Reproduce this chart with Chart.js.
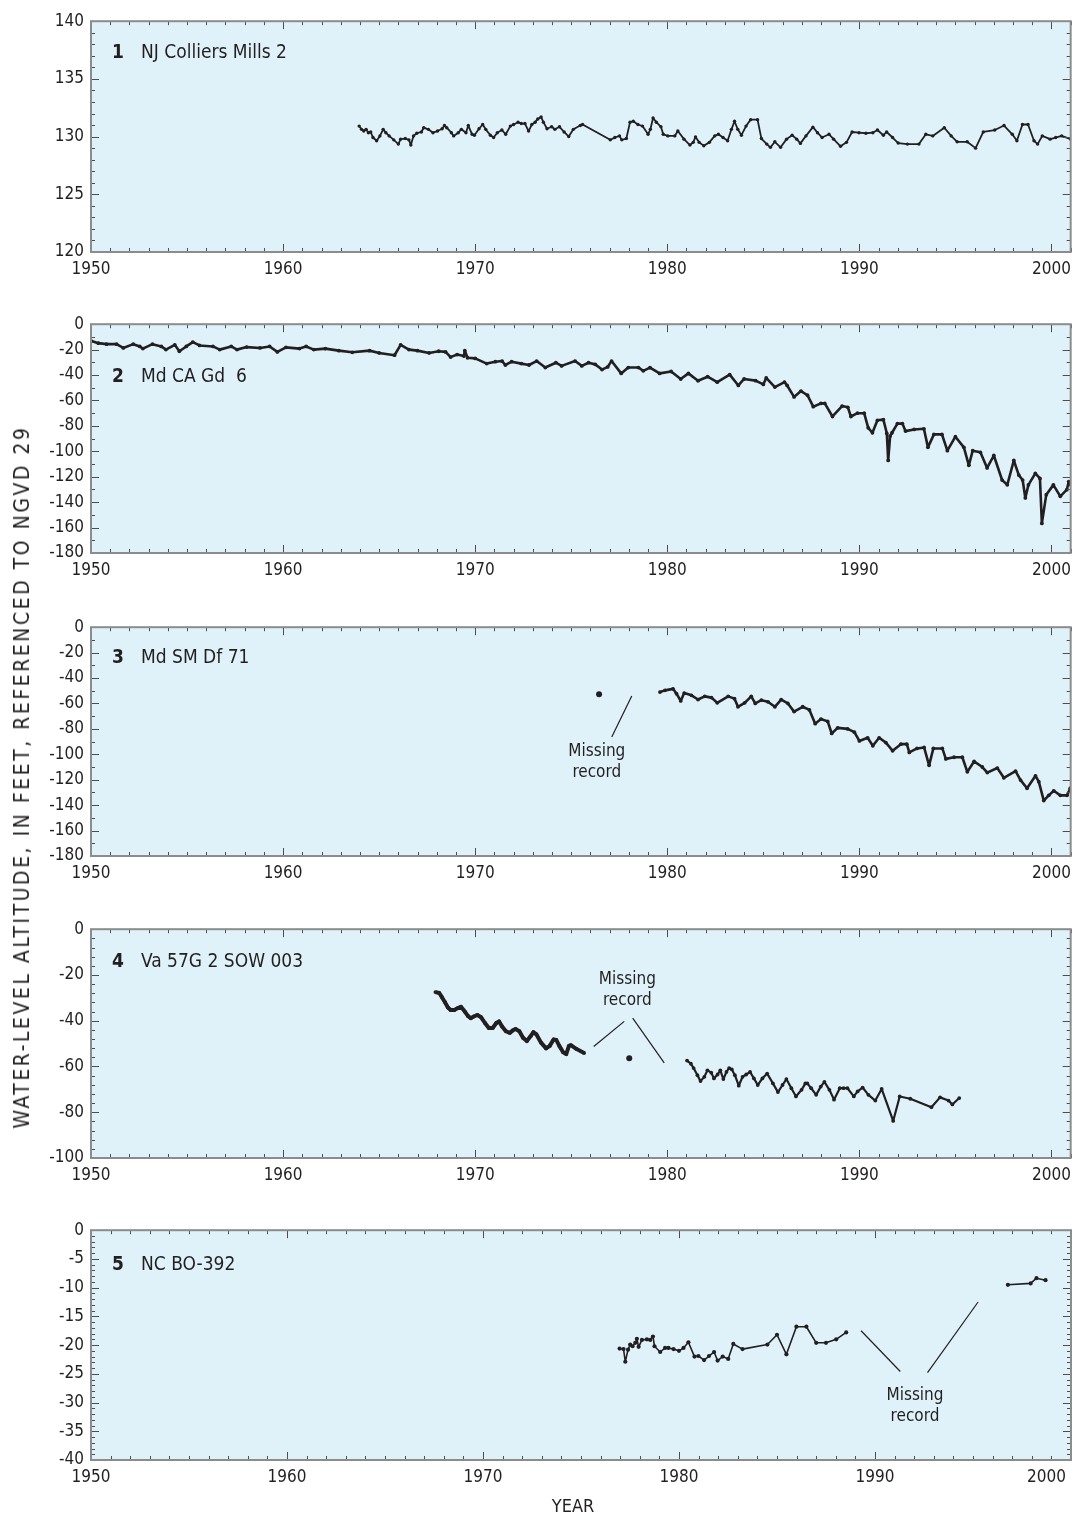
<!DOCTYPE html>
<html><head><meta charset="utf-8">
<script src="https://cdn.jsdelivr.net/npm/chart.js@4.4.1/dist/chart.umd.min.js"></script>
<style>
html,body{margin:0;padding:0;background:#fff;width:1078px;height:1519px;overflow:hidden}
body{position:relative}
canvas{position:absolute;left:0}
.ttl{position:absolute;white-space:nowrap;color:#231f20;font-family:'Liberation Sans Narrow','DejaVu Sans Condensed','Arial Narrow',sans-serif}
#ytitle{left:22px;top:777px;font-size:21px;transform:translate(-50%,-50%) rotate(-90deg)}
#xtitle{left:573px;top:1505px;font-size:18px;transform:translate(-50%,-50%)}
</style></head><body>
<canvas id="c1"></canvas><canvas id="c2"></canvas><canvas id="c3"></canvas><canvas id="c4"></canvas><canvas id="c5"></canvas>
<div id="ytitle" class="ttl">WATER-LEVEL ALTITUDE, IN FEET, REFERENCED TO NGVD 29</div>
<div id="xtitle" class="ttl">YEAR</div>
<script>
// ---------- DATA ----------
const xTickYears = [1950,1960,1970,1980,1990,2000];

const p1Years = [1963.96,1964.08,1964.2,1964.32,1964.44,1964.56,1964.68,1964.87,1965.04,1965.21,1965.35,1965.52,1965.76,1966.0,1966.12,1966.36,1966.55,1966.65,1966.79,1966.96,1967.2,1967.32,1967.56,1967.8,1968.04,1968.28,1968.4,1968.52,1968.76,1968.88,1969.12,1969.28,1969.52,1969.64,1969.84,1969.96,1970.2,1970.39,1970.55,1970.79,1970.96,1971.15,1971.39,1971.59,1971.83,1972.0,1972.23,1972.4,1972.59,1972.78,1972.95,1973.12,1973.26,1973.43,1973.55,1973.74,1973.98,1974.15,1974.39,1974.63,1974.87,1975.11,1975.47,1975.59,1977.03,1977.27,1977.51,1977.63,1977.87,1978.06,1978.23,1978.47,1978.71,1979.0,1979.12,1979.26,1979.43,1979.67,1979.79,1980.03,1980.39,1980.55,1980.87,1981.18,1981.35,1981.47,1981.66,1981.9,1982.19,1982.47,1982.66,1982.9,1983.14,1983.34,1983.5,1983.67,1983.86,1984.1,1984.34,1984.7,1984.9,1985.18,1985.37,1985.6,1985.9,1986.21,1986.5,1986.74,1986.93,1987.22,1987.58,1987.82,1988.06,1988.42,1988.66,1989.02,1989.33,1989.62,1989.98,1990.34,1990.7,1990.94,1991.25,1991.42,1991.73,1992.02,1992.5,1993.1,1993.46,1993.82,1994.42,1994.78,1995.09,1995.61,1996.05,1996.45,1997.05,1997.53,1997.96,1998.2,1998.49,1998.78,1999.09,1999.28,1999.52,1999.93,2000.22,2000.53,2001.0];
const p1Levels = [130.91,130.63,130.48,130.63,130.34,130.4,129.92,129.64,130.06,130.63,130.34,130.06,129.72,129.35,129.78,129.83,129.72,129.27,130.06,130.29,130.4,130.77,130.63,130.34,130.48,130.68,130.96,130.77,130.34,130.06,130.34,130.63,130.34,130.96,130.2,130.12,130.68,131.05,130.63,130.12,129.92,130.34,130.57,130.2,130.91,131.05,131.25,131.13,131.13,130.48,131.05,131.25,131.53,131.7,131.25,130.68,130.85,130.63,130.85,130.4,130.0,130.63,130.96,131.05,129.72,129.92,130.06,129.72,129.83,131.25,131.33,131.05,130.91,130.2,130.63,131.61,131.25,130.85,130.2,130.06,130.06,130.48,129.78,129.27,129.5,129.97,129.5,129.21,129.5,130.06,130.2,129.92,129.64,130.63,131.33,130.63,130.12,130.91,131.47,131.47,129.83,129.35,129.07,129.55,129.07,129.78,130.12,129.78,129.41,130.06,130.82,130.34,129.92,130.2,129.78,129.16,129.5,130.4,130.34,130.29,130.34,130.57,130.12,130.4,129.92,129.44,129.35,129.35,130.2,130.06,130.77,130.06,129.55,129.55,129.0,130.4,130.57,130.96,130.2,129.64,131.05,131.05,129.64,129.35,130.06,129.78,129.92,130.06,129.78];

const p2Years = [1950.0,1950.38,1950.81,1951.33,1951.68,1952.2,1952.54,1952.7,1953.2,1953.66,1953.9,1954.36,1954.6,1954.96,1955.3,1955.65,1956.35,1956.7,1957.3,1957.6,1958.1,1958.8,1959.3,1959.7,1960.15,1960.85,1961.2,1961.6,1962.2,1962.9,1963.6,1964.5,1965.0,1965.8,1966.12,1966.55,1966.99,1967.6,1968.1,1968.46,1968.72,1969.06,1969.41,1969.46,1969.6,1970.0,1970.6,1971.05,1971.4,1971.57,1971.9,1972.4,1972.8,1973.2,1973.65,1974.2,1974.5,1975.2,1975.55,1975.9,1976.25,1976.6,1976.9,1977.1,1977.6,1977.97,1978.5,1978.75,1979.1,1979.6,1980.2,1980.7,1981.1,1981.6,1982.1,1982.6,1983.25,1983.7,1984.0,1984.6,1985.0,1985.15,1985.6,1986.1,1986.24,1986.6,1986.96,1987.3,1987.6,1988.0,1988.2,1988.6,1989.1,1989.4,1989.56,1989.9,1990.25,1990.46,1990.68,1990.94,1991.25,1991.43,1991.5,1991.6,1991.7,1991.98,1992.24,1992.4,1992.85,1993.36,1993.57,1993.88,1994.3,1994.58,1995.0,1995.44,1995.7,1995.9,1996.3,1996.65,1997.0,1997.43,1997.7,1998.04,1998.3,1998.5,1998.64,1998.8,1999.16,1999.4,1999.5,1999.73,2000.1,2000.46,2000.8,2000.9,2001.0];
const p2Levels = [-13.1,-14.9,-15.7,-15.7,-18.7,-15.7,-17.5,-19.2,-15.7,-17.5,-20.0,-16.2,-21.3,-17.5,-14.1,-16.7,-17.5,-20.0,-17.5,-20.0,-18.0,-18.7,-17.5,-21.8,-18.2,-19.2,-17.5,-20.0,-19.2,-20.8,-22.1,-20.8,-22.6,-24.4,-16.2,-20.0,-20.8,-22.6,-21.3,-21.8,-25.9,-23.9,-25.1,-20.8,-26.4,-26.9,-31.0,-29.5,-29.0,-32.1,-29.5,-31.0,-32.1,-29.0,-34.1,-30.3,-32.8,-29.0,-32.8,-30.3,-31.6,-35.7,-33.6,-29.0,-38.7,-34.1,-34.1,-36.7,-34.1,-38.7,-37.2,-43.1,-38.7,-44.5,-41.3,-45.6,-39.7,-48.2,-43.1,-44.4,-47.4,-42.3,-49.5,-45.6,-48.2,-57.2,-52.6,-55.9,-64.9,-62.3,-62.3,-72.6,-64.4,-65.4,-72.6,-70.0,-70.0,-81.5,-85.4,-75.6,-75.1,-85.9,-107.2,-88.0,-85.4,-78.2,-78.2,-84.1,-82.8,-82.3,-96.9,-86.7,-86.7,-99.5,-88.5,-96.9,-111.0,-99.5,-100.8,-113.1,-103.3,-122.6,-126.4,-107.2,-118.7,-122.6,-136.7,-126.4,-117.4,-121.3,-156.7,-134.1,-126.4,-135.4,-130.2,-123.8,-126.4];

const p3SingleYears = [1976.45];
const p3SingleLevels = [-52.8];
const p3Years = [1979.62,1979.88,1980.3,1980.48,1980.7,1980.88,1981.26,1981.6,1981.95,1982.3,1982.6,1983.17,1983.5,1983.68,1984.03,1984.37,1984.58,1984.9,1985.24,1985.6,1985.93,1986.28,1986.6,1987.05,1987.4,1987.7,1988.0,1988.35,1988.56,1988.87,1989.39,1989.74,1990.0,1990.43,1990.7,1991.03,1991.38,1991.73,1992.16,1992.47,1992.6,1993.0,1993.37,1993.63,1993.85,1994.32,1994.5,1994.93,1995.36,1995.62,1995.97,1996.4,1996.66,1997.18,1997.52,1998.13,1998.39,1998.73,1999.17,1999.34,1999.6,1999.86,2000.12,2000.46,2000.81,2000.98];
const p3Levels = [-51.0,-49.7,-48.5,-52.3,-58.0,-51.8,-53.6,-56.9,-54.4,-55.4,-59.5,-54.4,-56.2,-62.6,-59.5,-54.4,-60.0,-57.4,-58.7,-62.6,-56.9,-60.0,-66.4,-62.6,-65.1,-75.9,-72.3,-74.1,-83.6,-79.2,-80.0,-82.6,-89.5,-87.0,-93.3,-87.0,-90.8,-97.2,-92.0,-92.0,-98.5,-95.4,-94.6,-108.7,-95.4,-95.4,-103.6,-102.3,-102.3,-113.8,-105.6,-110.0,-114.4,-110.8,-118.5,-113.3,-120.3,-126.7,-116.9,-121.5,-136.4,-132.3,-128.7,-132.3,-132.3,-126.7];

const p4aYears = [1967.93,1968.13,1968.26,1968.42,1968.58,1968.72,1968.92,1969.06,1969.26,1969.46,1969.62,1969.77,1969.91,1970.11,1970.31,1970.51,1970.71,1970.91,1971.1,1971.24,1971.4,1971.6,1971.8,1971.96,1972.1,1972.3,1972.49,1972.69,1972.89,1973.03,1973.19,1973.43,1973.69,1973.88,1974.08,1974.22,1974.38,1974.58,1974.74,1974.88,1974.98,1975.28,1975.67];
const p4aLevels = [-27.5,-27.9,-29.6,-31.8,-34.2,-35.3,-35.3,-34.6,-33.9,-36.0,-37.9,-38.9,-38.2,-37.5,-38.5,-41.0,-43.2,-43.2,-41.0,-40.3,-42.5,-44.6,-45.3,-44.2,-43.6,-44.6,-47.4,-48.9,-46.7,-45.0,-46.0,-49.6,-52.1,-51.0,-48.2,-48.4,-51.0,-53.8,-54.6,-51.0,-50.7,-52.4,-54.1];
const p4SingleYears = [1978.02];
const p4SingleLevels = [-56.4];
const p4bYears = [1981.03,1981.23,1981.37,1981.57,1981.73,1981.93,1982.09,1982.29,1982.43,1982.62,1982.76,1982.92,1983.08,1983.22,1983.36,1983.52,1983.72,1983.92,1984.11,1984.31,1984.51,1984.71,1984.95,1985.2,1985.5,1985.76,1986.0,1986.2,1986.46,1986.7,1986.99,1987.19,1987.29,1987.49,1987.75,1987.99,1988.18,1988.44,1988.68,1988.98,1989.18,1989.38,1989.71,1989.91,1990.17,1990.47,1990.83,1991.16,1991.76,1992.1,1992.65,1993.75,1994.2,1994.64,1994.84,1995.2];
const p4bLevels = [-57.4,-58.8,-60.7,-63.8,-66.4,-64.5,-61.7,-62.7,-65.2,-63.5,-61.7,-65.5,-62.4,-60.7,-61.3,-63.8,-68.4,-64.5,-63.5,-62.4,-65.2,-68.1,-65.2,-63.1,-67.4,-71.2,-68.1,-65.5,-69.5,-73.1,-70.2,-67.4,-67.4,-69.5,-72.4,-68.8,-66.7,-70.2,-74.5,-69.5,-69.5,-69.5,-73.1,-70.9,-69.2,-72.4,-74.9,-69.8,-83.8,-73.1,-74.1,-77.8,-73.5,-74.9,-76.6,-73.8];

const p5aYears = [1976.97,1977.17,1977.26,1977.4,1977.51,1977.63,1977.77,1977.85,1977.94,1978.11,1978.36,1978.53,1978.67,1978.75,1979.04,1979.29,1979.46,1979.72,1980.0,1980.23,1980.48,1980.79,1980.99,1981.28,1981.53,1981.79,1981.97,1982.23,1982.51,1982.77,1983.24,1984.51,1985.0,1985.48,1985.99,1986.5,1987.0,1987.5,1988.02,1988.53];
const p5aLevels = [-20.6,-20.7,-22.9,-20.8,-19.9,-20.2,-19.6,-18.9,-20.3,-19.1,-19.0,-19.1,-18.5,-20.2,-21.2,-20.5,-20.5,-20.7,-21.0,-20.5,-19.5,-22.0,-21.9,-22.6,-21.9,-21.2,-22.7,-22.0,-22.4,-19.8,-20.7,-19.9,-18.2,-21.6,-16.8,-16.8,-19.6,-19.6,-19.0,-17.8];
const p5bYears = [1996.78,1997.94,1998.24,1998.7];
const p5bLevels = [-9.5,-9.26,-8.35,-8.7];

// ---------- STYLE ----------
const INK = '#231f20';
const BG = '#dff2fa';
const FRAME = '#8c8c8c';
const TICK = '#4d4d4d';
const FONT = "'Liberation Sans Narrow','DejaVu Sans Condensed','Arial Narrow',sans-serif";

function pts(xs, ys){ return xs.map((x,i)=>({x:x, y:ys[i]})); }
function line(xs, ys, opt){ return Object.assign({data:pts(xs,ys), showLine:true, borderColor:INK, backgroundColor:INK, borderWidth:2, pointRadius:1.9, pointBorderWidth:0, pointHoverRadius:0, tension:0, borderJoinStyle:'round'}, opt||{}); }
function dot(xs, ys){ return {data:pts(xs,ys), showLine:false, backgroundColor:INK, borderColor:INK, pointRadius:3, pointBorderWidth:0, pointHoverRadius:0}; }

const framePlugin = {
  id:'frame',
  beforeDraw(chart, args, o){
    const a = chart.chartArea, ctx = chart.ctx;
    ctx.save(); ctx.fillStyle = BG; ctx.fillRect(a.left, a.top, a.right-a.left, a.bottom-a.top); ctx.restore();
    if (o.innerLast){
      const items = chart.scales.x.getLabelItems();
      if (items.length){ items[0].options.textAlign = 'center'; items[items.length-1].options.translation[0] -= 5; }
    }
  },
  afterDatasetsDraw(chart, args, o){
    const ctx = chart.ctx, a = chart.chartArea, xs = chart.scales.x, ys = chart.scales.y;
    ctx.save();
    ctx.strokeStyle = TICK; ctx.lineWidth = 1; ctx.beginPath();
    const nx = Math.round((xs.max - xs.min)/o.xMinor);
    for (let i=0;i<=nx;i++){
      const v = xs.min + i*o.xMinor;
      const px = Math.round(xs.getPixelForValue(v)) + 0.5;
      const L = Math.abs(v/o.xMajor - Math.round(v/o.xMajor)) < 1e-6 ? 8 : 4;
      ctx.moveTo(px, a.top); ctx.lineTo(px, a.top+L);
      ctx.moveTo(px, a.bottom); ctx.lineTo(px, a.bottom-L);
    }
    const ny = Math.round((ys.max - ys.min)/o.yMinor);
    for (let i=0;i<=ny;i++){
      const v = ys.min + i*o.yMinor;
      const py = Math.round(ys.getPixelForValue(v)) + 0.5;
      const L = Math.abs(v/o.yMajor - Math.round(v/o.yMajor)) < 1e-6 ? 8 : 4;
      ctx.moveTo(a.left, py); ctx.lineTo(a.left+L, py);
      ctx.moveTo(a.right, py); ctx.lineTo(a.right-L, py);
    }
    ctx.stroke();
    ctx.strokeStyle = FRAME; ctx.lineWidth = 2;
    ctx.strokeRect(a.left, a.top, a.right-a.left, a.bottom-a.top);
    // notes
    ctx.strokeStyle = INK; ctx.lineWidth = 1.2; ctx.fillStyle = INK;
    (o.notes||[]).forEach(n=>{
      if (n.type==='line'){
        ctx.beginPath();
        ctx.moveTo(xs.getPixelForValue(n.x1), ys.getPixelForValue(n.y1));
        ctx.lineTo(xs.getPixelForValue(n.x2), ys.getPixelForValue(n.y2));
        ctx.stroke();
      } else {
        ctx.font = '17px ' + FONT; ctx.textAlign='center'; ctx.textBaseline='middle';
        ctx.fillText(n.text, xs.getPixelForValue(n.x), ys.getPixelForValue(n.y));
      }
    });
    // panel label
    ctx.textAlign='left'; ctx.textBaseline='middle';
    ctx.font = 'bold 19px ' + FONT; ctx.fillText(o.num, a.left+21, a.top+o.labelDy);
    ctx.font = '19px ' + FONT; ctx.fillText(o.name, a.left+50, a.top+o.labelDy);
    ctx.restore();
  }
};

function makePanel(id, top, plotH, xMax, yMin, yMax, yStep, datasets, frame, inner){
  const cv = document.getElementById(id);
  const PADT = 12, XH = 40;
  const h = PADT + plotH + XH;
  cv.style.top = (top - PADT) + 'px';
  cv.width = 1078; cv.height = h; cv.style.width = '1078px'; cv.style.height = h + 'px';
  const tickFont = {family: FONT, size: 17};
  new Chart(cv, {
    type:'scatter',
    data:{datasets: datasets},
    options:{
      responsive:false, animation:false, devicePixelRatio:1, events:[],
      layout:{padding:{top:PADT, left:0, right:4, bottom:0}},
      plugins:{legend:{display:false}, tooltip:{enabled:false}, frame: frame},
      scales:{
        x:{type:'linear', min:1950, max:xMax,
           grid:{display:false, drawTicks:false}, border:{display:false},
           afterBuildTicks: s => { s.ticks = xTickYears.filter(v => v <= xMax).map(v => ({value:v})); },
           afterFit: s => { s.height = XH; },
           ticks:{padding:7, color:INK, font:tickFont, maxRotation:0, autoSkip:false, align: inner ? 'inner' : 'center', callback: v => String(v)}},
        y:{type:'linear', min:yMin, max:yMax,
           grid:{display:false, drawTicks:false}, border:{display:false},
           afterFit: s => { s.width = 91; },
           ticks:{stepSize:yStep, padding:7, color:INK, font:tickFont, autoSkip:false, callback: v => String(v)}}
      }
    },
    plugins:[framePlugin]
  });
}

makePanel('c1', 16, 236, 2001, 120, 140, 5,
  [line(p1Years, p1Levels, {borderWidth:1.8, pointRadius:1.7})],
  {xMinor:1, xMajor:10, yMinor:1, yMajor:5, num:'1', name:'NJ Colliers Mills 2', labelDy:32});

makePanel('c2', 319, 234, 2001, -180, 0, 20,
  [line(p2Years, p2Levels, {borderWidth:2.6})],
  {xMinor:1, xMajor:10, yMinor:10, yMajor:20, num:'2', name:'Md CA Gd  6', labelDy:53});

makePanel('c3', 622, 234, 2001, -180, 0, 20,
  [dot(p3SingleYears, p3SingleLevels), line(p3Years, p3Levels, {borderWidth:2.6})],
  {xMinor:1, xMajor:10, yMinor:10, yMajor:20, num:'3', name:'Md SM Df 71', labelDy:31,
   notes:[{type:'line', x1:1978.15, y1:-54.1, x2:1977.11, y2:-86.4},
          {type:'text', x:1976.33, y:-97.7, text:'Missing'},
          {type:'text', x:1976.33, y:-114.4, text:'record'}]});

makePanel('c4', 924, 234, 2001, -100, 0, 20,
  [line(p4aYears, p4aLevels, {borderWidth:4}), dot(p4SingleYears, p4SingleLevels), line(p4bYears, p4bLevels, {borderWidth:2.2})],
  {xMinor:1, xMajor:10, yMinor:4, yMajor:20, num:'4', name:'Va 57G 2 SOW 003', labelDy:33,
   notes:[{type:'line', x1:1976.17, y1:-51.3, x2:1977.76, y2:-40.3},
          {type:'line', x1:1978.2, y1:-38.9, x2:1979.84, y2:-58.4},
          {type:'text', x:1977.92, y:-21.8, text:'Missing'},
          {type:'text', x:1977.92, y:-31.1, text:'record'}]});

makePanel('c5', 1225, 235, 2000, -40, 0, 5,
  [line(p5aYears, p5aLevels, {borderWidth:1.6, pointRadius:2.1}), line(p5bYears, p5bLevels, {borderWidth:1.6, pointRadius:2.1})],
  {xMinor:1, xMajor:10, yMinor:1, yMajor:5, num:'5', name:'NC BO-392', labelDy:35, innerLast:true,
   notes:[{type:'line', x1:1989.29, y1:-17.5, x2:1991.29, y2:-24.6},
          {type:'line', x1:1992.68, y1:-24.8, x2:1995.26, y2:-12.5},
          {type:'text', x:1992.04, y:-28.8, text:'Missing'},
          {type:'text', x:1992.04, y:-32.4, text:'record'}]}, true);

// stretch the vertical title to the length it spans in the figure
(function(){
  const el = document.getElementById('ytitle');
  const txt = el.textContent;
  const w = el.offsetWidth;
  el.style.letterSpacing = ((703 - w) / txt.length).toFixed(2) + 'px';
})();
</script>
</body></html>
